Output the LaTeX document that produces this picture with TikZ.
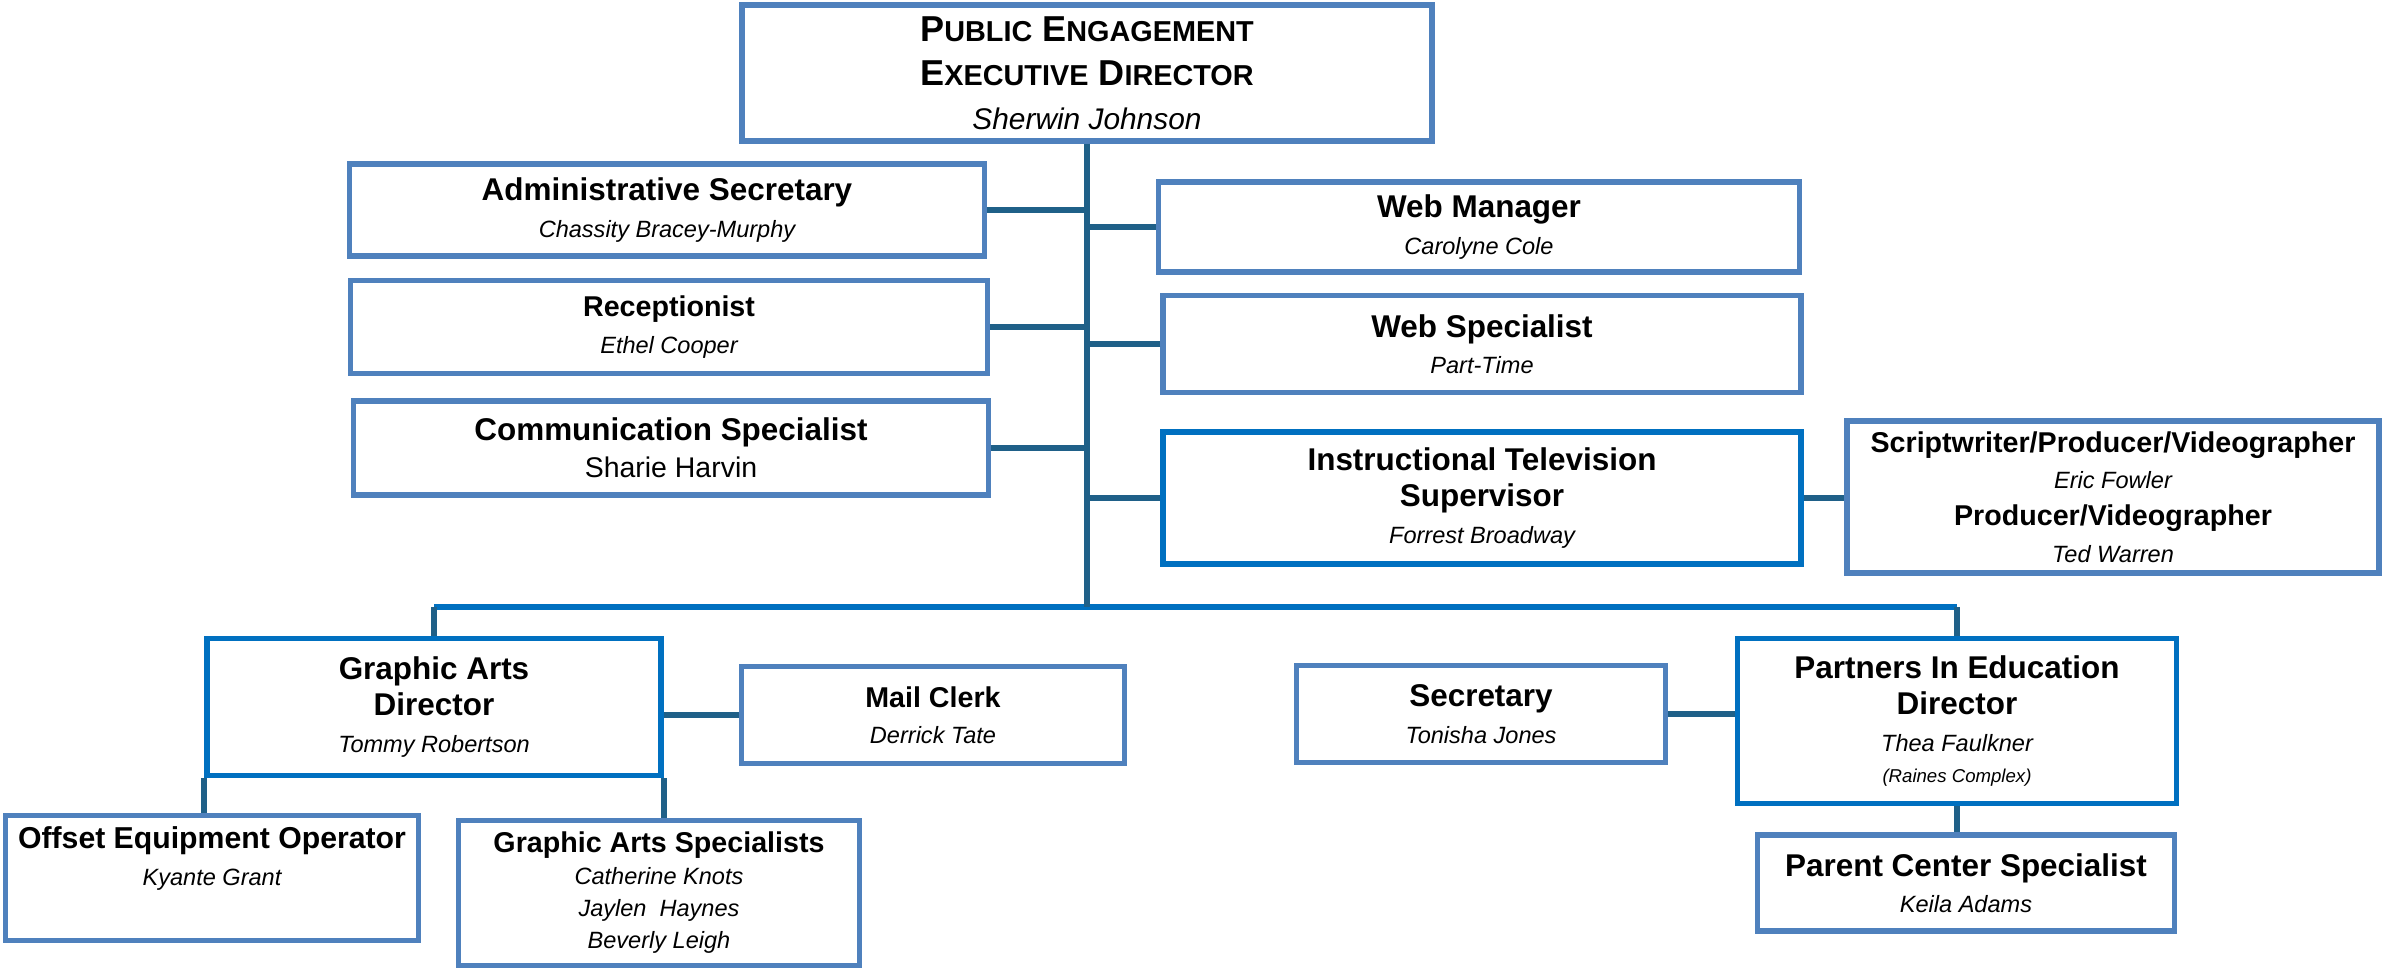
\documentclass[tikz,border=0pt]{standalone}
\usepackage{fontspec}
\setmainfont{Liberation Sans}
\usetikzlibrary{positioning}
\definecolor{boxblue}{HTML}{4F81BD}
\definecolor{leadblue}{HTML}{0070C0}
\definecolor{linkblue}{HTML}{1F6088}
\newcommand{\who}[1]{{\fontsize{13.4}{16}\selectfont\mdseries\itshape #1}}
\newcommand{\lowcap}[1]{{\fontsize{16.4}{20}\selectfont #1}}

\begin{document}
\begin{tikzpicture}[%
		x=0.02cm, y=-0.02cm,
		box/.style={%
			draw=boxblue,
			line width=3pt,
			fill=white,
			align=center,
			inner sep=2pt,
			font=\fontsize{17.9}{20.8}\selectfont\bfseries
		},
		leadbox/.style={box, draw=leadblue},
		smallrole/.style={font=\fontsize{16.3}{20.8}\selectfont\bfseries},
		link/.style={draw=linkblue, line width=3.4pt},
		bus/.style={draw=leadblue, line width=3.4pt}
		]
		\useasboundingbox (0,0) rectangle (2384,971);
		\node[box, minimum width=13.8cm, minimum height=2.72cm, font=\fontsize{20.5}{25}\selectfont\bfseries] (ped) at (1087,73)
			{P\lowcap{UBLIC} E\lowcap{NGAGEMENT}\\E\lowcap{XECUTIVE} D\lowcap{IRECTOR}\\{\fontsize{17}{20}\selectfont\mdseries\itshape Sherwin Johnson}};
		% left column under the director
		\node[box, minimum width=12.7cm, minimum height=1.84cm] (adm) at (667,210) {Administrative Secretary\\\who{Chassity Bracey-Murphy}};
		\node[box, smallrole, minimum width=12.74cm, minimum height=1.86cm] (rec) at (669,327) {Receptionist\\\who{Ethel Cooper}};
		\node[box, minimum width=12.7cm, minimum height=1.88cm] (com) at (671,448) {Communication Specialist\\{\fontsize{16.2}{20}\selectfont\mdseries Sharie Harvin}};
		% right column under the director
		\node[box, minimum width=12.82cm, minimum height=1.8cm] (web) at (1479,227) {Web Manager\\\who{Carolyne Cole}};
		\node[box, minimum width=12.76cm, minimum height=1.94cm] (wsp) at (1482,344) {Web Specialist\\\who{Part-Time}};
		\node[leadbox, minimum width=12.76cm, minimum height=2.64cm] (itv) at (1482,498) {Instructional Television\\Supervisor\\\who{Forrest Broadway}};
		\node[box, smallrole, minimum width=10.64cm, minimum height=3.04cm] (vid) at (2113,497)
			{Scriptwriter/Producer/Videographer\\\who{Eric Fowler}\\Producer/Videographer\\\who{Ted Warren}};
		% graphic arts
		\node[leadbox, minimum width=9.08cm, minimum height=2.74cm] (gad) at (434,707) {Graphic Arts\\Director\\\who{Tommy Robertson}};
		\node[box, smallrole, minimum width=7.66cm, minimum height=1.94cm] (mcl) at (933,715) {Mail Clerk\\\who{Derrick Tate}};
		\node[box, font=\fontsize{17.2}{20.8}\selectfont\bfseries, minimum width=8.26cm, minimum height=2.5cm, text depth=25pt] (oeo) at (212,878)
			{Offset Equipment Operator\\\who{Kyante Grant}};
		\node[box, font=\fontsize{16.3}{18.2}\selectfont\bfseries, minimum width=8.02cm, minimum height=2.9cm] (gas) at (659,893)
			{Graphic Arts Specialists\\\who{Catherine Knots}\\\who{Jaylen~~Haynes}\\\who{Beverly Leigh}};
		% partners in education
		\node[box, minimum width=7.38cm, minimum height=1.94cm] (sec) at (1481,714) {Secretary\\\who{Tonisha Jones}};
		\node[leadbox, minimum width=8.78cm, minimum height=3.3cm] (pie) at (1957,721)
			{Partners In Education\\Director\\\who{Thea Faulkner}\\[-3pt]{\fontsize{10.6}{12}\selectfont\mdseries\itshape (Raines Complex)}};
		\node[box, minimum width=8.34cm, minimum height=1.92cm] (pcs) at (1966,883) {Parent Center Specialist\\\who{Keila Adams}};

		\coordinate (busy) at (0,607);
		\coordinate (busl) at (gad.north |- busy);
		\coordinate (busr) at (pie.north |- busy);
		\coordinate (trunk) at (ped.south |- busy);

		\draw[bus] (busl) -- (busr);
		\draw[link] (ped.south) -- (trunk);
		\draw[link] (busl) -- (gad.north);
		\draw[link] (busr) -- (pie.north);
		\draw[link] (adm.east) -- (adm.east -| ped.south);
		\draw[link] (rec.east) -- (rec.east -| ped.south);
		\draw[link] (com.east) -- (com.east -| ped.south);
		\draw[link] (web.west) -- (web.west -| ped.south);
		\draw[link] (wsp.west) -- (wsp.west -| ped.south);
		\draw[link] (itv.west) -- (itv.west -| ped.south);
		\draw[link] (itv.east) -- (itv.east -| vid.west);
		\draw[link] (gad.south west) -- (gad.south west |- oeo.north);
		\draw[link] (gad.south east) -- (gad.south east |- gas.north);
		\draw[link] (gad.east |- mcl.west) -- (mcl.west);
		\draw[link] (sec.east) -- (sec.east -| pie.west);
		\draw[link] (pie.south) -- (pie.south |- pcs.north);
\end{tikzpicture}
\end{document}
